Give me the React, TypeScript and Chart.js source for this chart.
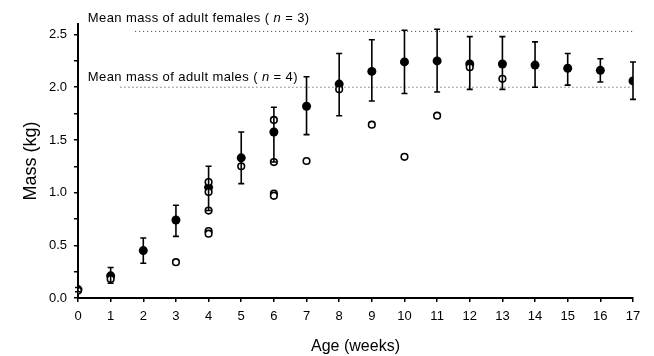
import React, { useEffect, useRef } from "react";
import { Chart, registerables } from "chart.js";

Chart.register(...registerables);

const weeks = [0, 1, 2, 3, 4, 5, 6, 7, 8, 9, 10, 11, 12, 13, 14, 15, 16, 17];
const meanMass = [0.08, 0.21, 0.45, 0.74, 1.05, 1.33, 1.575, 1.82, 2.03, 2.15, 2.24, 2.25, 2.22, 2.22, 2.21, 2.18, 2.16, 2.06];
const errUpper = [0.1, 0.29, 0.57, 0.88, 1.25, 1.575, 1.81, 2.1, 2.32, 2.45, 2.54, 2.55, 2.48, 2.48, 2.43, 2.32, 2.27, 2.24];
const errLower = [0.06, 0.14, 0.33, 0.585, 0.83, 1.085, 1.29, 1.55, 1.73, 1.87, 1.94, 1.955, 1.98, 1.98, 2.0, 2.02, 2.05, 1.885];

const openWeeks = [0, 1, 3, 4, 4, 4, 4, 4, 5, 6, 6, 6, 6, 7, 8, 9, 10, 11, 12, 13];
const openMass = [0.07, 0.18, 0.34, 1.1, 1.005, 0.83, 0.635, 0.61, 1.25, 1.69, 1.29, 0.99, 0.97, 1.3, 1.98, 1.645, 1.34, 1.73, 2.19, 2.08];

const femaleMean = 2.53;
const maleMean = 2.0;
const femaleLineStart = 1.75;
const maleLineStart = 1.3;
const femaleLabel = ["Mean mass of adult females ( ", "n", " = 3)"];
const maleLabel = ["Mean mass of adult males ( ", "n", " = 4)"];

const xTicks = weeks;
const yMax = 2.6;

const errorBarPlugin = {
  id: "errorBars",
  afterDatasetsDraw(chart: any) {
    const ctx = chart.ctx;
    const xs = chart.scales.x;
    const ys = chart.scales.y;
    ctx.save();
    ctx.strokeStyle = "#000";
    ctx.lineWidth = 1.6;
    weeks.forEach((w, i) => {
      const px = xs.getPixelForValue(w);
      const top = ys.getPixelForValue(errUpper[i]);
      const bot = ys.getPixelForValue(errLower[i]);
      ctx.beginPath();
      ctx.moveTo(px, top);
      ctx.lineTo(px, bot);
      ctx.moveTo(px - 3, top);
      ctx.lineTo(px + 3, top);
      ctx.moveTo(px - 3, bot);
      ctx.lineTo(px + 3, bot);
      ctx.stroke();
    });
    ctx.restore();
  },
};

function drawLabel(ctx: any, parts: string[], x: number, y: number) {
  let cx = x;
  parts.forEach((p, i) => {
    ctx.font = (i === 1 ? "italic " : "") + "13px 'Liberation Sans', Arial, sans-serif";
    ctx.fillText(p, cx, y);
    cx += ctx.measureText(p).width;
  });
}

const labelPlugin = {
  id: "refLabels",
  afterDraw(chart: any) {
    const ctx = chart.ctx;
    const xs = chart.scales.x;
    const ys = chart.scales.y;
    ctx.save();
    ctx.fillStyle = "#000";
    ctx.textBaseline = "middle";
    ctx.textAlign = "left";
    try {
      ctx.letterSpacing = "0.4px";
    } catch (e) {}
    const lx = xs.getPixelForValue(0.3);
    drawLabel(ctx, femaleLabel, lx, ys.getPixelForValue(femaleMean) - 13);
    drawLabel(ctx, maleLabel, lx, ys.getPixelForValue(maleMean) - 10);
    ctx.restore();
  },
};

export default function App() {
  const ref = useRef<HTMLCanvasElement | null>(null);
  useEffect(() => {
    document.body.style.margin = "0";
    const canvas = ref.current!;
    const chart = new Chart(canvas, {
      type: "scatter",
      data: {
        datasets: [
          {
            type: "line",
            data: [
              { x: femaleLineStart, y: femaleMean },
              { x: 17, y: femaleMean },
            ],
            borderColor: "#333",
            borderWidth: 1,
            borderDash: [1, 3],
            pointRadius: 0,
          } as any,
          {
            type: "line",
            data: [
              { x: maleLineStart, y: maleMean },
              { x: 17, y: maleMean },
            ],
            borderColor: "#333",
            borderWidth: 1,
            borderDash: [1, 3],
            pointRadius: 0,
          } as any,
          {
            data: openWeeks.map((w, i) => ({ x: w, y: openMass[i] })),
            pointRadius: 3.3,
            pointBackgroundColor: "#fff",
            pointBorderColor: "#000",
            pointBorderWidth: 1.6,
          },
          {
            data: weeks.map((w, i) => ({ x: w, y: meanMass[i] })),
            pointRadius: 4.5,
            pointBackgroundColor: "#000",
            pointBorderColor: "#000",
            pointBorderWidth: 0,
          },
        ],
      },
      options: {
        animation: false,
        responsive: false,
        maintainAspectRatio: false,
        layout: { padding: { left: 20, right: 21, top: 24, bottom: 0 } },
        plugins: { legend: { display: false }, tooltip: { enabled: false } },
        scales: {
          x: {
            type: "linear",
            min: 0,
            max: 17,
            afterFit: (s: any) => {
              s.height = 58;
            },
            afterBuildTicks: (s: any) => {
              s.ticks = xTicks.map((v) => ({ value: v }));
            },
            ticks: {
              color: "#000",
              font: { size: 13, family: "'Liberation Sans', Arial, sans-serif" },
              padding: 7,
              maxRotation: 0,
              autoSkip: false,
            },
            grid: { display: true, drawOnChartArea: false, drawTicks: true, tickLength: 4, color: "#000", lineWidth: 1.5 },
            border: { display: true, color: "#000", width: 2 },
            title: {
              display: true,
              text: "Age (weeks)",
              color: "#000",
              font: { size: 16, family: "'Liberation Sans', Arial, sans-serif" },
              padding: { top: 2, bottom: 0 },
            },
          },
          y: {
            type: "linear",
            min: 0,
            max: yMax,
            afterFit: (s: any) => {
              s.width = 58;
            },
            afterBuildTicks: (s: any) => {
              const t = [];
              for (let v = 0; v <= 2.5 + 1e-9; v += 0.25) t.push({ value: Math.round(v * 100) / 100 });
              s.ticks = t;
            },
            ticks: {
              color: "#000",
              font: { size: 13, family: "'Liberation Sans', Arial, sans-serif" },
              padding: 7,
              autoSkip: false,
              callback: (v: any) => (Math.abs((v * 2) % 1) < 1e-6 ? Number(v).toFixed(1) : ""),
            },
            grid: { display: true, drawOnChartArea: false, drawTicks: true, tickLength: 4, color: "#000", lineWidth: 1.5 },
            border: { display: true, color: "#000", width: 2 },
            title: {
              display: true,
              text: "Mass (kg)",
              color: "#000",
              font: { size: 18, family: "'Liberation Sans', Arial, sans-serif" },
              padding: { top: 0, bottom: 8 },
            },
          },
        },
      },
      plugins: [errorBarPlugin, labelPlugin],
    } as any);
    return () => chart.destroy();
  }, []);
  return (
    <div style={{ width: 654, height: 356, background: "#fff" }}>
      <canvas ref={ref} width={654} height={356} style={{ display: "block" }} />
    </div>
  );
}
